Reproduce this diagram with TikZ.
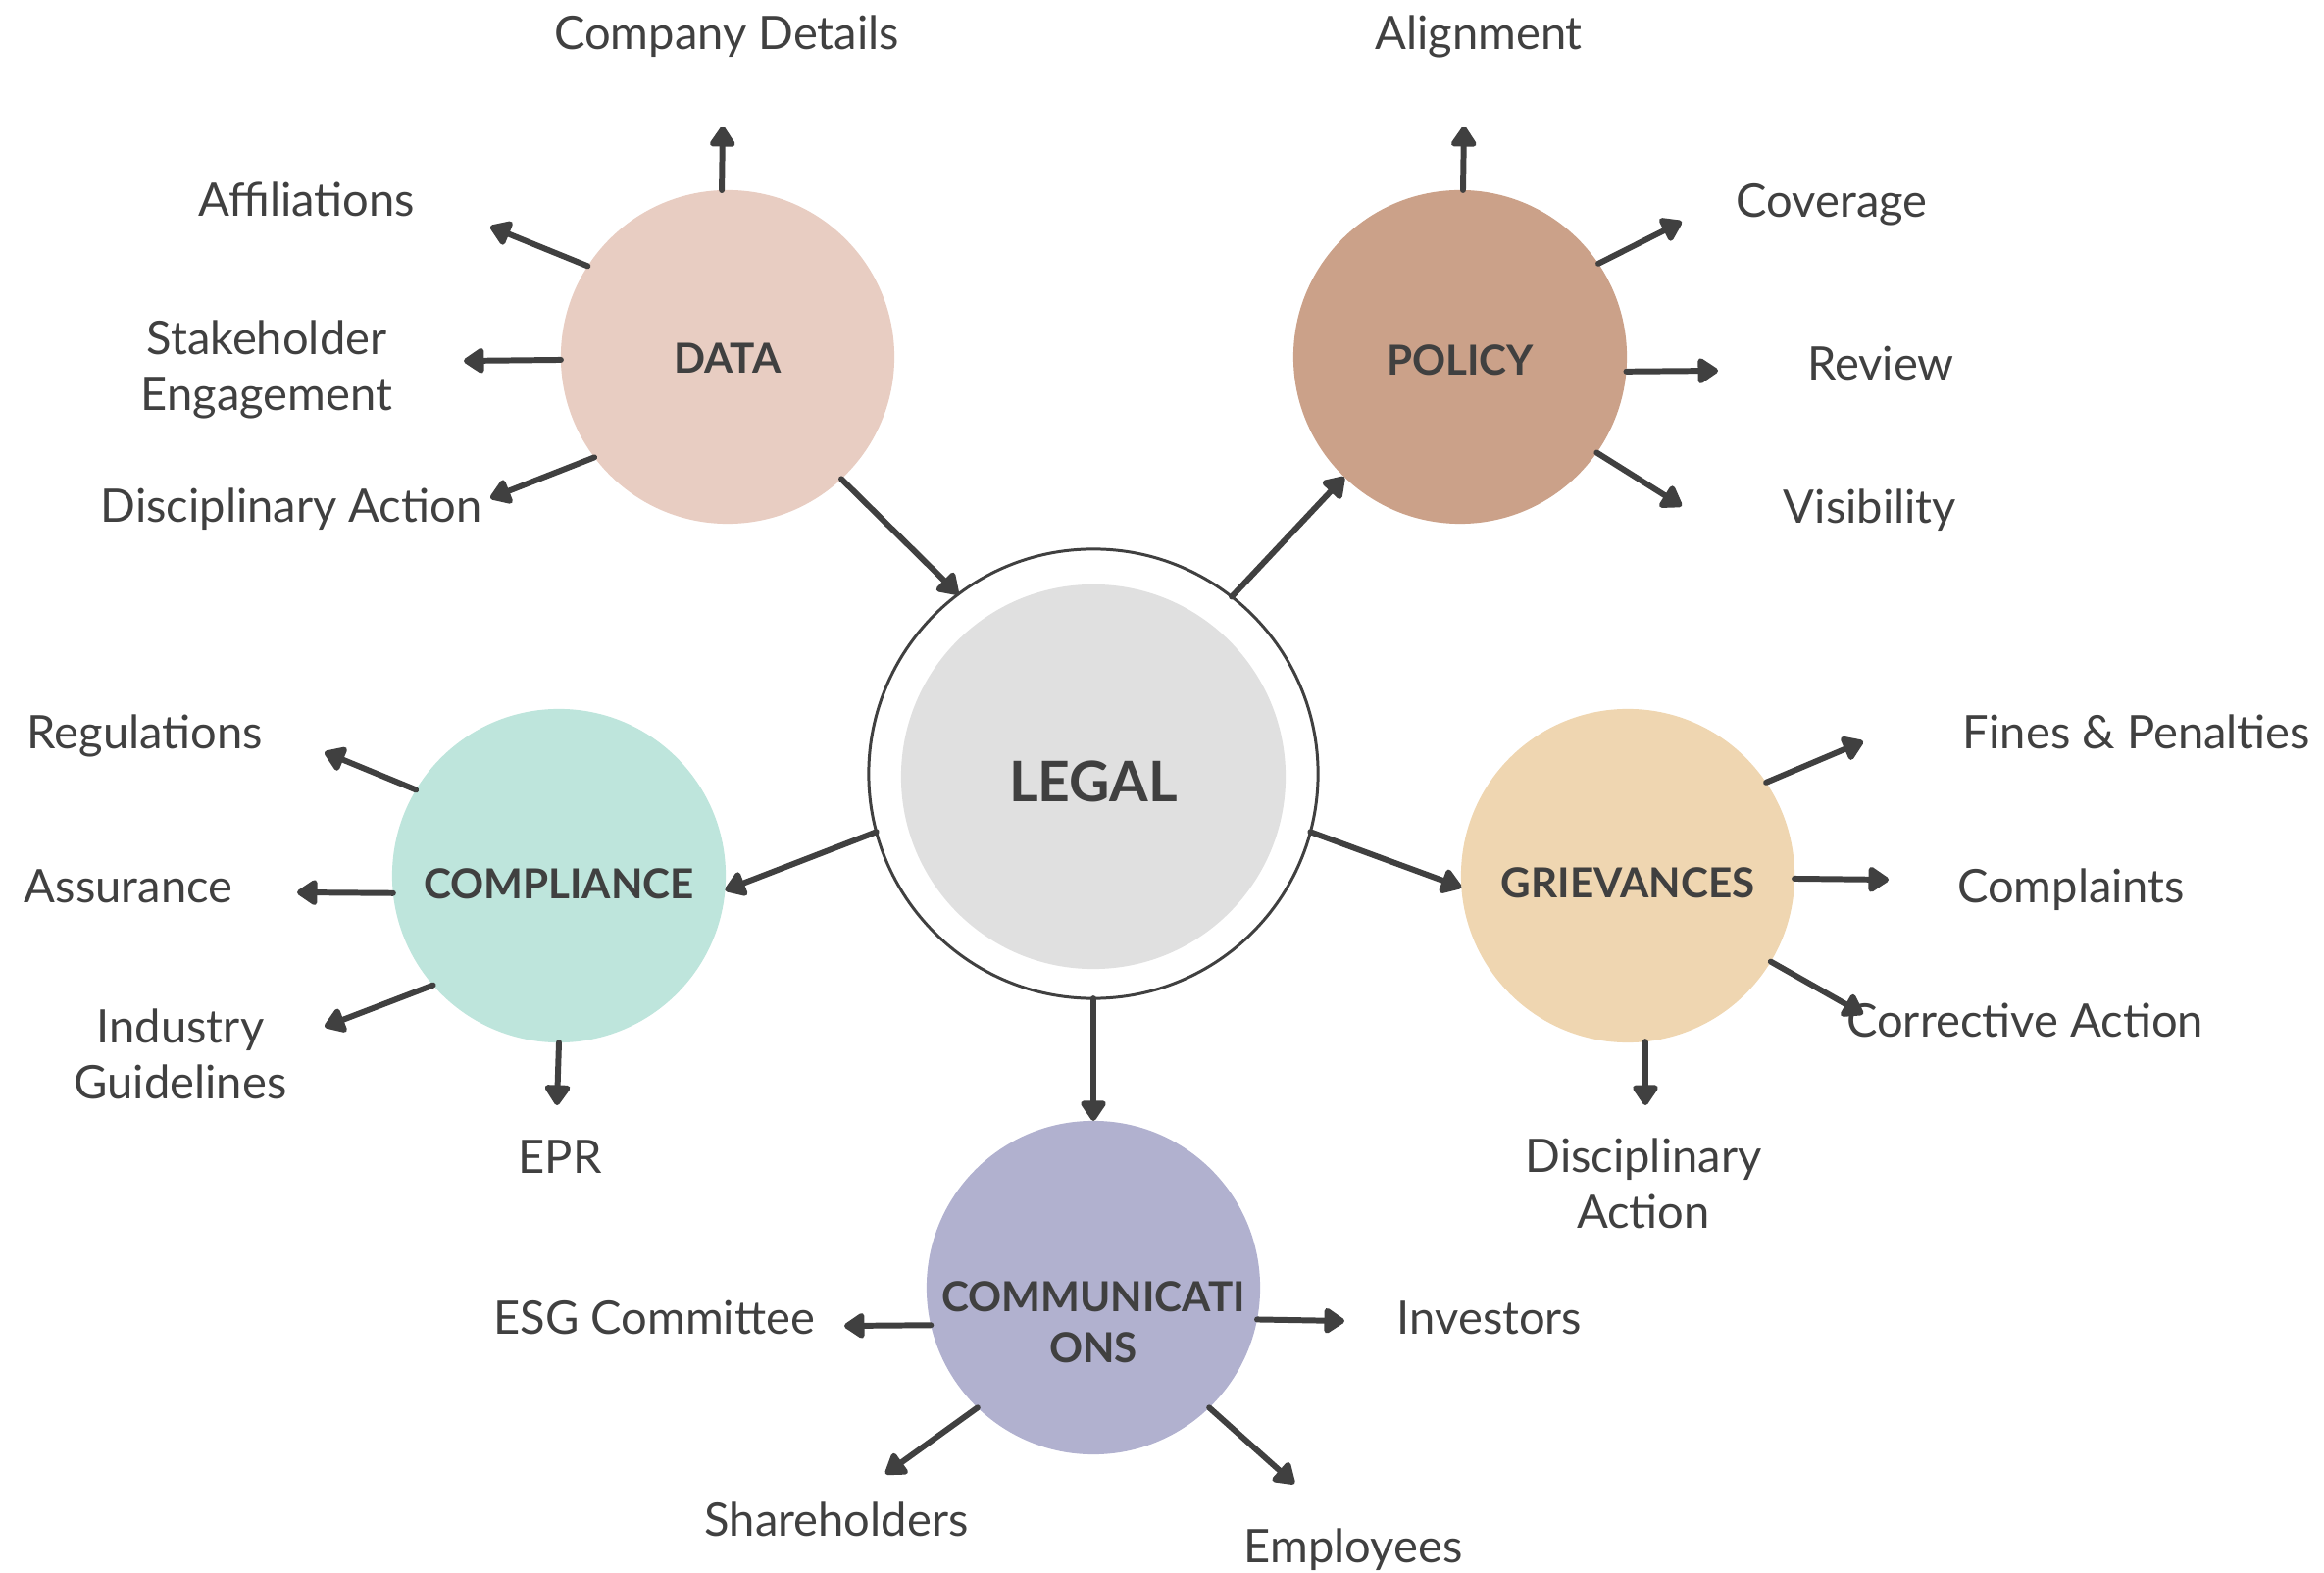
\documentclass[tikz,border=0pt]{standalone}
\usepackage{fontspec}
\setmainfont{Lato}
\usetikzlibrary{arrows.meta}
\definecolor{txt}{HTML}{404040}
\definecolor{datac}{HTML}{E8CDC2}
\definecolor{policyc}{HTML}{CBA189}
\definecolor{complc}{HTML}{BEE5DC}
\definecolor{grievc}{HTML}{EFD6B1}
\definecolor{commc}{HTML}{B1B1CF}
\definecolor{legalc}{HTML}{E0E0E0}
\begin{document}
\begin{tikzpicture}[x=0.01cm,y=-0.01cm,
  hub/.style={circle, minimum size=3.4cm, inner sep=0pt, outer sep=0pt},
  hubtext/.style={text=txt, font=\fontsize{12}{14.6}\selectfont\bfseries, align=center,
    inner sep=0pt, text height=8.6pt, text depth=0pt},
  lbl/.style={text=txt, font=\fontsize{13.4}{16.2}\selectfont, align=center,
    inner sep=0pt, text height=9.6pt, text depth=0pt},
  con/.style={draw=txt, line width=1.7pt, line cap=round,
    -{Triangle[length=2.3mm,width=2.9mm,round]}}]
\useasboundingbox (0,0) rectangle (2370,1604);

% hubs
\node[circle, draw=txt, line width=0.85pt, minimum size=4.58cm, inner sep=0pt, outer sep=0pt] (LEGAL) at (1115,789) {};
\node[circle, fill=legalc, minimum size=3.92cm, inner sep=0pt] (LEGALin) at (1115,792) {};
\node[text=txt, font=\fontsize{16.2}{19}\selectfont\bfseries, inner sep=0pt,
  text height=11.6pt, text depth=0pt] (LEGALt) at (1115,797) {LEGAL};
\node[hub, fill=datac] (DATA) at (742,364) {};
\node[hub, fill=policyc] (POLICY) at (1489,364) {};
\node[hub, fill=complc] (COMPL) at (570,893) {};
\node[hub, fill=grievc] (GRIEV) at (1660,893) {};
\node[hub, fill=commc] (COMM) at (1115,1313) {};
\node[hubtext] (DATAt) at (742,365) {DATA};
\node[hubtext] (POLICYt) at (1489,367) {POLICY};
\node[hubtext] (COMPLt) at (570,901) {COMPLIANCE};
\node[hubtext] (GRIEVt) at (1660,900) {GRIEVANCES};
\node[hubtext] (COMMt) at (1115,1374) {COMMUNICATI\\ONS};

% main connectors
\draw[con] (DATA.-47) -- (LEGAL.127);
\draw[con] (LEGAL.52) -- (POLICY.-134);
\draw[con] (LEGAL.-165) -- (COMPL.-5);
\draw[con] (LEGAL.-15) -- (GRIEV.-176);
\draw[con] (LEGAL.-90) -- (COMM.90);

% leaf labels
\node[lbl] (l1) at (741,34) {Company Details};
\node[lbl] (l2) at (313,204) {Affiliations};
\node[lbl] (l3) at (272,402) {Stakeholder\\Engagement};
\node[lbl] (l4) at (297,516) {Disciplinary Action};
\node[lbl] (l5) at (1508,34) {Alignment};
\node[lbl] (l6) at (1868,205) {Coverage};
\node[lbl] (l7) at (1918,371) {Review};
\node[lbl] (l8) at (1907,517) {Visibility};
\node[lbl] (l9) at (148,747) {Regulations};
\node[lbl] (l10) at (131,904) {Assurance};
\node[lbl] (l11) at (184,1104) {Industry\\Guidelines};
\node[lbl] (l12) at (571,1180) {EPR};
\node[lbl] (l13) at (2179,747) {Fines \& Penalties};
\node[lbl] (l14) at (2112,904) {Complaints};
\node[lbl] (l15) at (2065,1041) {Corrective Action};
\node[lbl] (l16) at (1676,1236) {Disciplinary\\Action};
\node[lbl] (l17) at (667,1344) {ESG Committee};
\node[lbl] (l18) at (853,1550) {Shareholders};
\node[lbl] (l19) at (1519,1344) {Investors};
\node[lbl] (l20) at (1380,1577) {Employees};

% arrow tips
\coordinate (t1) at (737,129);
\coordinate (t2) at (500,231);
\coordinate (t3) at (473,368);
\coordinate (t4) at (500,508);
\coordinate (t5) at (1493,129);
\coordinate (t6) at (1715,226);
\coordinate (t7) at (1752,378);
\coordinate (t8) at (1715,516);
\coordinate (t9) at (331,767);
\coordinate (t10) at (303,910);
\coordinate (t11) at (331,1047);
\coordinate (t12) at (568,1127);
\coordinate (t13) at (1900,756);
\coordinate (t14) at (1926,897);
\coordinate (t15) at (1900,1034);
\coordinate (t16) at (1678,1127);
\coordinate (t17) at (861,1352);
\coordinate (t18) at (903,1503);
\coordinate (t19) at (1371,1347);
\coordinate (t20) at (1320,1513);

% leaf connectors
\draw[con] (DATA.92) -- (t1);
\draw[con] (DATA.147) -- (t2);
\draw[con] (DATA.181) -- (t3);
\draw[con] (DATA.-143) -- (t4);
\draw[con] (POLICY.89) -- (t5);
\draw[con] (POLICY.34) -- (t6);
\draw[con] (POLICY.-5) -- (t7);
\draw[con] (POLICY.-35.5) -- (t8);
\draw[con] (COMPL.149) -- (t9);
\draw[con] (COMPL.-174) -- (t10);
\draw[con] (COMPL.-139) -- (t11);
\draw[con] (COMPL.-90.7) -- (t12);
\draw[con] (GRIEV.34.4) -- (t13);
\draw[con] (GRIEV.-1.2) -- (t14);
\draw[con] (GRIEV.-31) -- (t15);
\draw[con] (GRIEV.-84) -- (t16);
\draw[con] (COMM.-167) -- (t17);
\draw[con] (COMM.-134.5) -- (t18);
\draw[con] (COMM.-11.2) -- (t19);
\draw[con] (COMM.-46.3) -- (t20);
\end{tikzpicture}
\end{document}
